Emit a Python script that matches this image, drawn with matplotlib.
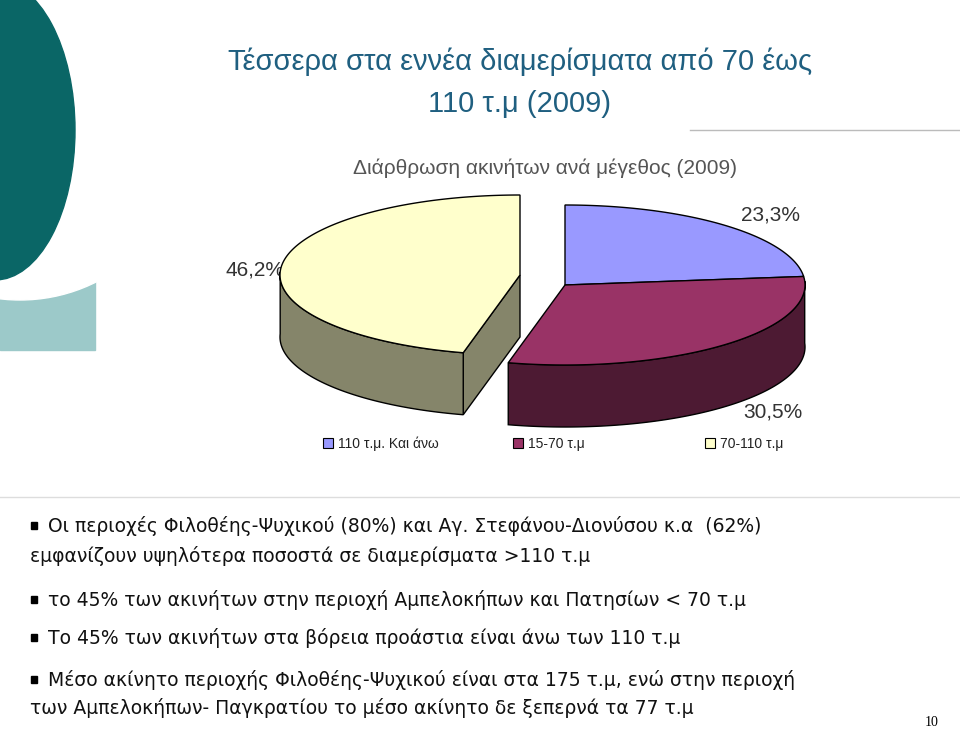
import numpy as np
import matplotlib
matplotlib.use("Agg")
import matplotlib.pyplot as plt
from matplotlib.patches import Polygon, Ellipse, Rectangle

categories = ["110 τ.μ. Και άνω", "15-70 τ.μ", "70-110 τ.μ"]
values = [23.3, 30.5, 46.2]
labels = ["23,3%", "30,5%", "46,2%"]
top_colors = ["#9999ff", "#993366", "#ffffcc"]
side_colors = ["#3d3d73", "#4d1a33", "#85856a"]
explode = [0, 0, 1]

fig = plt.figure(figsize=(9.6, 7.32), dpi=100)
ax = fig.add_axes([0, 0, 1, 1])
ax.set_xlim(0, 960); ax.set_ylim(732, 0); ax.axis("off")

# decoration
ax.add_patch(Rectangle((0, 0), 95, 350, color="#9cc9c9", zorder=0))
ax.add_patch(Ellipse((20, 140), 330, 320, color="white", zorder=0.5))
ax.add_patch(Ellipse((-5, 130), 160, 300, color="#0a6666", zorder=1))
ax.plot([690, 960], [130, 130], color="#bbbbbb", lw=1)

ax.text(520, 62, "Τέσσερα στα εννέα διαμερίσματα από 70 έως", ha="center", va="center", fontsize=21, color="#1f5f80", family="Liberation Sans")
ax.text(520, 104, "110 τ.μ (2009)", ha="center", va="center", fontsize=21, color="#1f5f80", family="Liberation Sans")
ax.text(545, 168, "Διάρθρωση ακινήτων ανά μέγεθος (2009)", ha="center", va="center", fontsize=15, color="#555555", family="Liberation Sans")

# 3D pie
cx, cy, rx, ry, depth = 565, 285, 240, 80, 62
ex_off = (-45, -10)
def P(a, r=1.0, off=(0, 0)):
    return cx + off[0] + rx * r * np.cos(a), cy + off[1] - ry * r * np.sin(a)

starts = []
a = np.pi / 2
for v in values:
    span = 2 * np.pi * v / 100
    starts.append((a, a - span))
    a -= span

sides = []
tops = []
for i, (a0, a1) in enumerate(starts):
    off = ex_off if explode[i] else (0, 0)
    ang = np.linspace(a0, a1, 200)
    x, y = P(ang, off=off)
    tops.append((np.column_stack([np.r_[cx + off[0], x], np.r_[cy + off[1], y]]), i))
    front = np.sin(ang) < 0.05
    if front.any():
        xs, ys = x[front], y[front]
        pts = np.column_stack([np.r_[xs, xs[::-1]], np.r_[ys, ys[::-1] + depth]])
        sides.append((pts, i, 3))
    if explode[i]:
        ex_, ey_ = P(a0, off=off)
        c = (cx + off[0], cy + off[1])
        pts = np.array([c, (ex_, ey_), (ex_, ey_ + depth), (c[0], c[1] + depth)])
        sides.append((pts, i, 2))
for pts, i, z in sides:
    ax.add_patch(Polygon(pts, closed=True, fc=side_colors[i], ec="black", lw=1, zorder=z))
for pts, i in tops:
    ax.add_patch(Polygon(pts, closed=True, fc=top_colors[i], ec="black", lw=1, zorder=4))

lab_pos = [(770, 215), (773, 412), (255, 270)]
for (lx, ly), t in zip(lab_pos, labels):
    ax.text(lx, ly, t, ha="center", va="center", fontsize=15, color="#333333", family="Liberation Sans")

# legend
leg_x = [323, 513, 705]
for lx, c, t in zip(leg_x, top_colors, categories):
    ax.add_patch(Rectangle((lx, 438), 10, 10, fc=c, ec="black", lw=0.8))
    ax.text(lx + 15, 444, t, va="center", fontsize=10, color="#222222", family="Liberation Sans")

ax.plot([0, 960], [497, 497], color="#dddddd", lw=1)

bul = [
    (526, "Οι περιοχές Φιλοθέης-Ψυχικού (80%) και Αγ. Στεφάνου-Διονύσου κ.α  (62%)"),
    (600, "το 45% των ακινήτων στην περιοχή Αμπελοκήπων και Πατησίων < 70 τ.μ"),
    (638, "Το 45% των ακινήτων στα βόρεια προάστια είναι άνω των 110 τ.μ"),
    (680, "Μέσο ακίνητο περιοχής Φιλοθέης-Ψυχικού είναι στα 175 τ.μ, ενώ στην περιοχή"),
]
for y, t in bul:
    ax.add_patch(Rectangle((31, y - 4), 6, 7, color="black"))
    ax.text(48, y, t, va="center", fontsize=13.5, color="#111111", family="DejaVu Sans")
ax.text(30, 556, "εμφανίζουν υψηλότερα ποσοστά σε διαμερίσματα >110 τ.μ", va="center", fontsize=13.5, color="#111111", family="DejaVu Sans")
ax.text(30, 708, "των Αμπελοκήπων- Παγκρατίου το μέσο ακίνητο δε ξεπερνά τα 77 τ.μ", va="center", fontsize=13.5, color="#111111", family="DejaVu Sans")
ax.text(932, 722, "10", ha="center", va="center", fontsize=10, family="Liberation Serif")

fig.savefig("out.png", dpi=100)
